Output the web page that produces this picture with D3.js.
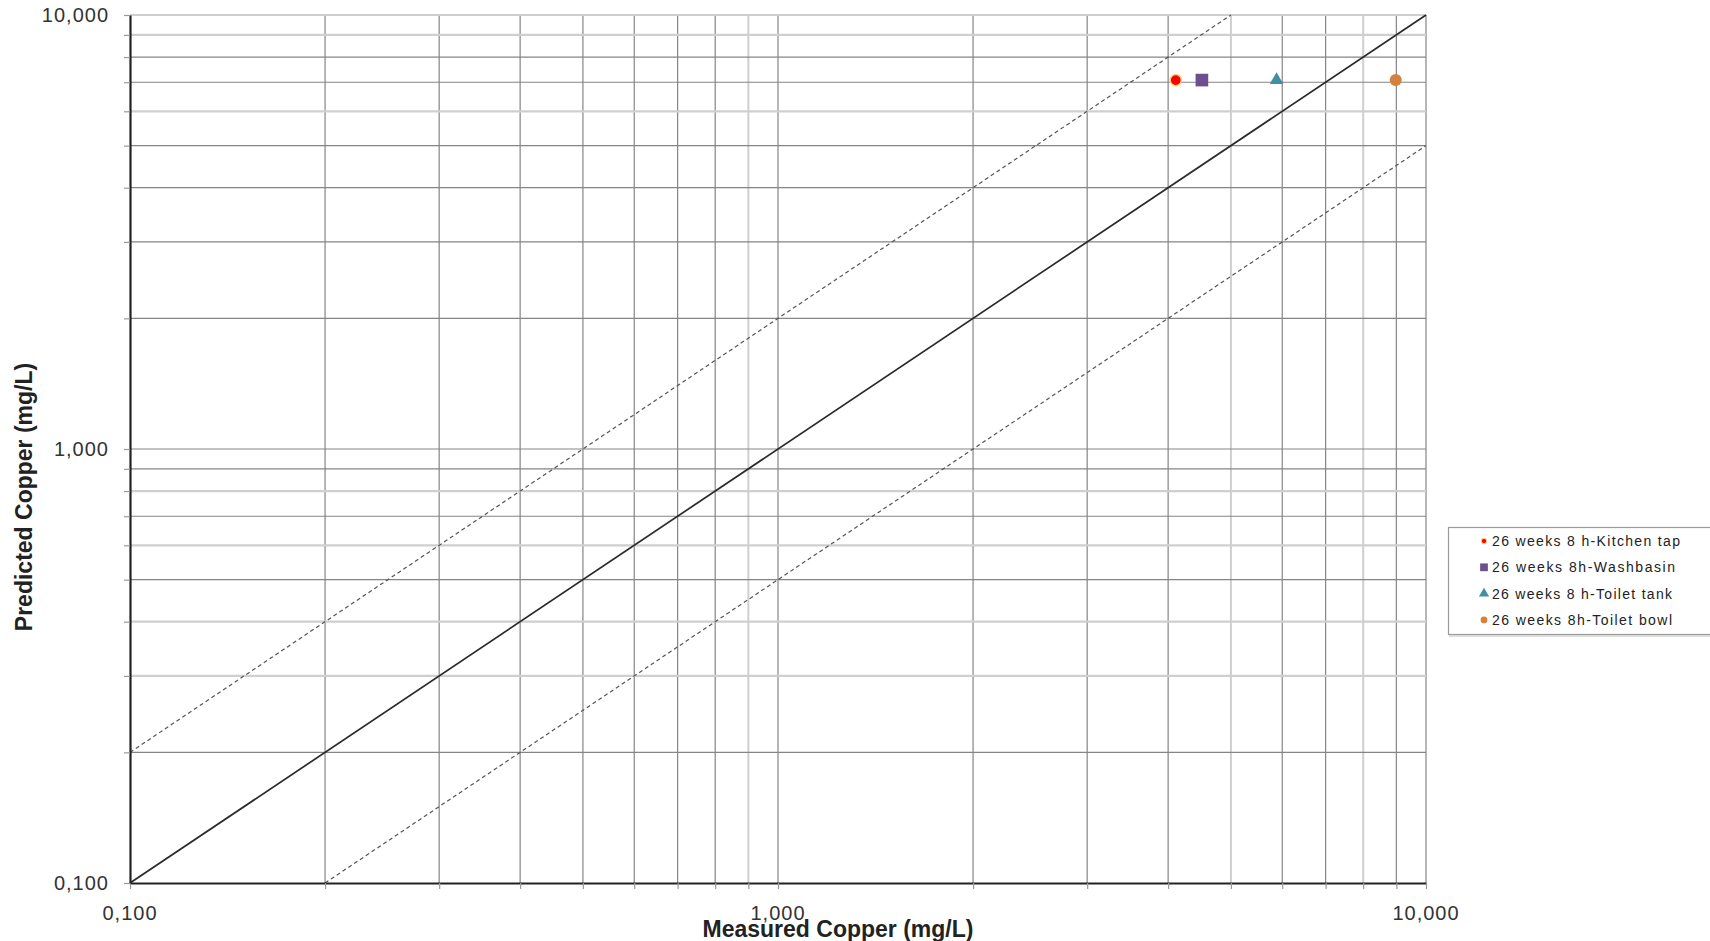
<!DOCTYPE html>
<html>
<head>
<meta charset="utf-8">
<script src="https://cdn.jsdelivr.net/npm/d3@7"></script>
<style>
  html, body { margin: 0; padding: 0; background: #fff; }
  svg { display: block; font-family: "Liberation Sans", Arial, sans-serif; }
</style>
</head>
<body>
<div id="chart"></div>
<script>
// series
const seriesNames = [
    "26 weeks 8 h-Kitchen tap",
    "26 weeks 8h-Washbasin",
    "26 weeks 8 h-Toilet tank",
    "26 weeks 8h-Toilet bowl"
];
const measured = [4.11, 4.51, 5.88, 8.98];
const predicted = [7.08, 7.08, 7.08, 7.08];
const seriesColors = ["#ff0000", "#6b4f8e", "#3f8fa6", "#d3823f"];
const seriesShapes = ["circle", "square", "triangle", "circle"];

// axes
const axisDomain = [0.1, 10];
const majorTicks = [0.1, 1, 10];
// reference lines: y = k * x
const refFactors = [1, 2, 0.5];
// gridlines drawn lighter in the picture
const xLightGrid = [0.9, 5, 8];
const yLightGrid = [0.3, 0.4, 0.6, 0.8, 6, 9, 10];

const width = 1710, height = 941;
const plotLeft = 130, plotRight = 1426, plotTop = 15, plotBottom = 883;

let svg = d3.select("#chart")
    .append("svg")
    .attr("width", width)
    .attr("height", height);

svg.append("rect").attr("width", width).attr("height", height).attr("fill", "#fff");

let x = d3.scaleLog().domain(axisDomain).range([plotLeft, plotRight]);
let y = d3.scaleLog().domain(axisDomain).range([plotBottom, plotTop]);

let fmt = (v) => d3.format(".3f")(v).replace(".", ",");
let near = (list, v) => list.some(d => Math.abs(d - v) < 1e-9);

// gridlines
let grid = svg.append("g");
x.ticks().filter(d => d > axisDomain[0]).forEach(d => {
    let light = near(xLightGrid, d);
    grid.append("line")
        .attr("x1", x(d)).attr("x2", x(d))
        .attr("y1", plotTop).attr("y2", plotBottom)
        .attr("stroke", light ? "#cfcfcf" : "#858585")
        .attr("stroke-width", light ? 2 : 1.2);
});
y.ticks().filter(d => d > axisDomain[0]).forEach(d => {
    let light = near(yLightGrid, d);
    grid.append("line")
        .attr("x1", plotLeft).attr("x2", plotRight)
        .attr("y1", y(d)).attr("y2", y(d))
        .attr("stroke", light ? "#cfcfcf" : "#858585")
        .attr("stroke-width", light ? 2.2 : 1.2);
});

// reference lines
refFactors.forEach(k => {
    let x0 = Math.max(axisDomain[0], axisDomain[0] / k);
    let x1 = Math.min(axisDomain[1], axisDomain[1] / k);
    svg.append("line")
        .attr("x1", x(x0)).attr("y1", y(x0 * k))
        .attr("x2", x(x1)).attr("y2", y(x1 * k))
        .attr("stroke", k === 1 ? "#2a2a2a" : "#555")
        .attr("stroke-width", k === 1 ? 1.7 : 1.2)
        .attr("stroke-dasharray", k === 1 ? null : "4,3");
});

// axes
let xAxis = d3.axisBottom(x)
    .ticks(10)
    .tickSize(6)
    .tickSizeOuter(0)
    .tickFormat(() => "");
let yAxis = d3.axisLeft(y)
    .ticks(10)
    .tickSize(6)
    .tickSizeOuter(0)
    .tickFormat(() => "");

let gx = svg.append("g").attr("transform", "translate(0," + plotBottom + ")").call(xAxis);
let gy = svg.append("g").attr("transform", "translate(" + plotLeft + ",0)").call(yAxis);
[gx, gy].forEach(g => {
    g.select(".domain").attr("stroke", "#222").attr("stroke-width", 2.2);
    g.selectAll(".tick line").attr("stroke", "#999").attr("stroke-width", 1.2);
});

// tick labels
svg.append("g").selectAll("text")
    .data(majorTicks)
    .enter()
    .append("text")
    .attr("x", d => x(d))
    .attr("y", 920)
    .attr("text-anchor", "middle")
    .attr("font-size", 20)
    .attr("letter-spacing", 1)
    .attr("fill", "#333")
    .text(fmt);

svg.append("g").selectAll("text")
    .data(majorTicks)
    .enter()
    .append("text")
    .attr("x", 109)
    .attr("y", d => y(d))
    .attr("dy", "0.36em")
    .attr("text-anchor", "end")
    .attr("font-size", 20)
    .attr("letter-spacing", 1)
    .attr("fill", "#333")
    .text(fmt);

// axis titles
svg.append("text")
    .attr("x", 838)
    .attr("y", 937)
    .attr("text-anchor", "middle")
    .attr("font-size", 23)
    .attr("font-weight", "bold")
    .attr("fill", "#222")
    .text("Measured Copper (mg/L)");

svg.append("text")
    .attr("transform", "translate(32,497) rotate(-90)")
    .attr("text-anchor", "middle")
    .attr("font-size", 23)
    .attr("font-weight", "bold")
    .attr("fill", "#222")
    .text("Predicted Copper (mg/L)");

// markers
let symbolFor = (shape, size) => {
    let type = shape === "square" ? d3.symbolSquare
        : shape === "triangle" ? d3.symbolTriangle : d3.symbolCircle;
    return d3.symbol().type(type).size(size)();
};
let markerSizes = [100, 160, 80, 115];

let points = measured.map((m, i) => ({m: m, p: predicted[i], i: i}));
svg.append("g").selectAll("path")
    .data(points)
    .enter()
    .append("path")
    .attr("transform", d => "translate(" + x(d.m) + "," + y(d.p) + ")")
    .attr("d", d => symbolFor(seriesShapes[d.i], markerSizes[d.i]))
    .attr("fill", d => seriesColors[d.i])
    .attr("stroke", d => d.i === 0 ? "#ffd27a" : "none")
    .attr("stroke-width", 1.5);

// legend
let legend = svg.append("g");
legend.append("rect")
    .attr("x", 1448.5).attr("y", 527.5)
    .attr("width", 270).attr("height", 107)
    .attr("fill", "#fff")
    .attr("stroke", "#9a9a9a")
    .attr("stroke-width", 1.2);
legend.append("line")
    .attr("x1", 1449).attr("x2", 1710)
    .attr("y1", 636).attr("y2", 636)
    .attr("stroke", "#ddd").attr("stroke-width", 2);

let legendWidths = [188, 183, 180, 180];
let legendSizes = [22, 60, 45, 36];
seriesNames.forEach((name, i) => {
    let cy = 541 + i * 26.3;
    legend.append("path")
        .attr("transform", "translate(1484," + cy + ")")
        .attr("d", symbolFor(seriesShapes[i], legendSizes[i]))
        .attr("fill", seriesColors[i])
        .attr("stroke", i === 0 ? "#ffd27a" : "none")
        .attr("stroke-width", 1);
    legend.append("text")
        .attr("x", 1492)
        .attr("y", cy + 5)
        .attr("font-size", 14)
        .attr("fill", "#222")
        .attr("textLength", legendWidths[i])
        .attr("lengthAdjust", "spacing")
        .text(name);
});
</script>
</body>
</html>
